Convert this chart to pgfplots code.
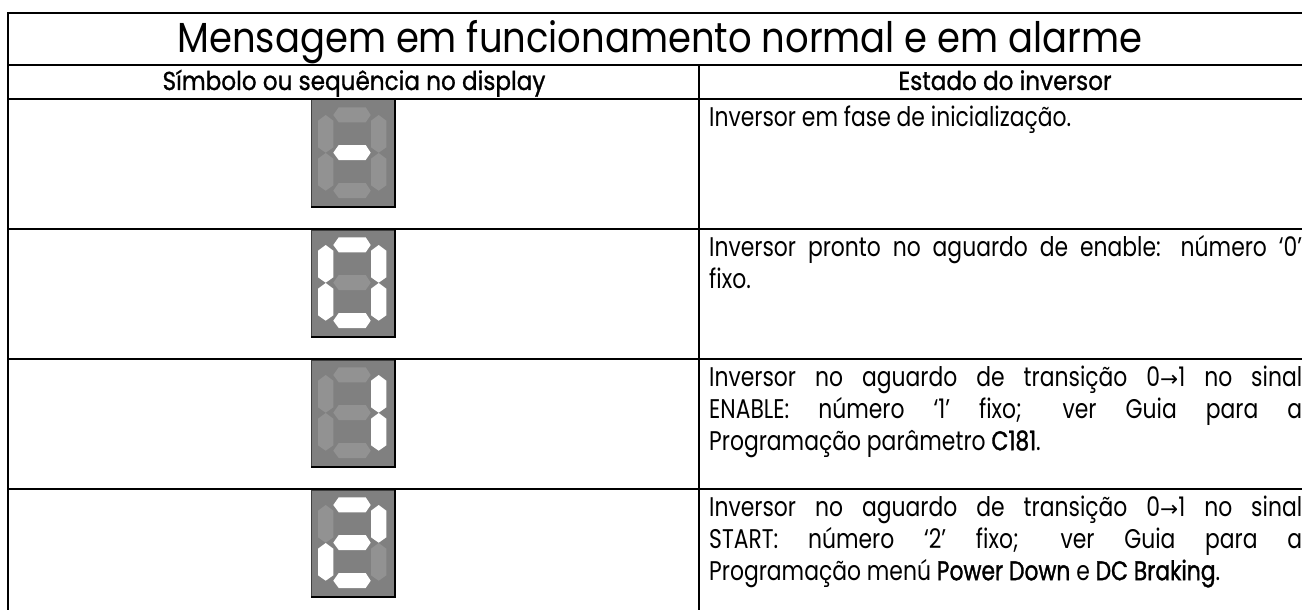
\documentclass[border=0pt]{standalone}
\usepackage{pgfplots}
\usepackage{pgfplotstable}
\pgfplotsset{compat=1.18}
\usepackage{fontspec}
\setmainfont{Poppins}[FakeStretch=0.81,BoldFont={Poppins},BoldFeatures={FakeBold=1.2,FakeStretch=0.81}]
\newfontfamily\titlef{Poppins}[FakeStretch=0.88]
\newfontfamily\headf{Poppins}[FakeStretch=0.89,FakeBold=1.0]
\newfontfamily\sym{DejaVu Sans}[Scale=0.8]
\newcommand\arr{{\sym →}}
\definecolor{dsp}{RGB}{128,128,128}
\definecolor{dim}{RGB}{146,146,146}
\pgfplotstableread{
x y
22.3 15
27.7 7.3
54.7 7.3
59.7 15
54.7 22.3
27.7 22.3
22.3 15
}\segT
\pgfplotstableread{
x y
7 20.7
14.7 15
22.3 20.7
22.3 47.3
14.7 52.7
7 47.3
7 20.7
}\segL
\pgfplotstableread{
x y
0 0
84 0
84 107
0 107
0 0
}\segBox
\newcommand\segH[3]{\addplot[fill=#3,draw=none,forget plot] table[x expr=\thisrow{x}+\ox,y expr=\thisrow{y}+\oy+#2] {\segT};}
\newcommand\segV[3]{\addplot[fill=#3,draw=none,forget plot] table[x expr=\thisrow{x}+\ox+#1,y expr=\thisrow{y}+\oy+#2] {\segL};}
% A top, B up-right, C low-right, D bottom, E low-left, F up-left, G middle
\newcommand\disp[8]{%
\def\ox{311}\def\oy{#1}%
\addplot[fill=dsp,draw=none,forget plot] table[x expr=\thisrow{x}+\ox,y expr=\thisrow{y}+\oy] {\segBox};
\addplot[draw=black!75,line width=1pt,forget plot] coordinates {(311,#1+107) (311,#1) (395,#1)};
\addplot[draw=black,line width=2pt,forget plot] coordinates {(395,#1) (395,#1+107) (311,#1+107)};
\segH{0}{0}{#2}
\segV{53}{0}{#3}
\segV{53}{38}{#4}
\segH{0}{75.7}{#5}
\segV{0}{38}{#6}
\segV{0}{0}{#7}
\segH{0}{37.7}{#8}
}
\begin{document}
\begin{tikzpicture}
\begin{axis}[
  scale only axis,width=1302pt,height=610pt,
  xmin=0,xmax=1302,ymin=0,ymax=610,y dir=reverse,
  hide axis,clip=true,
]
\disp{100}{dim}{dim}{dim}{dim}{dim}{dim}{white}
\disp{230}{white}{white}{white}{white}{white}{white}{dim}
\disp{360}{dim}{white}{white}{dim}{dim}{dim}{dim}
\disp{490}{white}{white}{dim}{white}{white}{dim}{white}
\addplot[black,line width=2pt,forget plot] coordinates {(7.7,610) (7.7,13) (1302,13)};
\addplot[black,line width=2pt,forget plot] coordinates {(7.7,65) (1302,65)};
\addplot[black,line width=2pt,forget plot] coordinates {(7.7,99) (1302,99)};
\addplot[black,line width=2pt,forget plot] coordinates {(7.7,229) (1302,229)};
\addplot[black,line width=2pt,forget plot] coordinates {(7.7,359) (1302,359)};
\addplot[black,line width=2pt,forget plot] coordinates {(7.7,489) (1302,489)};
\addplot[black,line width=2pt,forget plot] coordinates {(699,65) (699,610)};
\node[anchor=base] at (axis cs:660,53) {\titlef\fontsize{42}{42}\selectfont Mensagem em funcionamento normal e em alarme};
\node[anchor=base] at (axis cs:354,90) {\headf\fontsize{26}{26}\selectfont Símbolo ou sequência no display};
\node[anchor=base] at (axis cs:1005,90) {\headf\fontsize{26}{26}\selectfont Estado do inversor};
\tikzset{body/.style={anchor=north west,inner sep=0pt,text width=593pt,align=justify,font=\fontsize{27}{32}\selectfont}}
\newcommand\st{\rule{0pt}{24pt}}
\node[body] at (axis cs:709,102) {\st Inversor em fase de inicialização.};
\node[body] at (axis cs:709,232) {\st Inversor pronto no aguardo de enable: número ‘0’\linebreak fixo.};
\node[body] at (axis cs:709,362) {\st Inversor no aguardo de transição 0\arr 1 no sinal\linebreak ENABLE: número ‘1’ fixo; ver Guia para a\linebreak Programação parâmetro \textbf{C181}.};
\node[body] at (axis cs:709,492) {\st Inversor no aguardo de transição 0\arr 1 no sinal\linebreak START: número ‘2’ fixo; ver Guia para a\linebreak Programação menú \textbf{Power Down} e \textbf{DC Braking}.};
\end{axis}
\pgfresetboundingbox
\path[use as bounding box] (0,0) rectangle (1302pt,610pt);
\end{tikzpicture}
\end{document}
